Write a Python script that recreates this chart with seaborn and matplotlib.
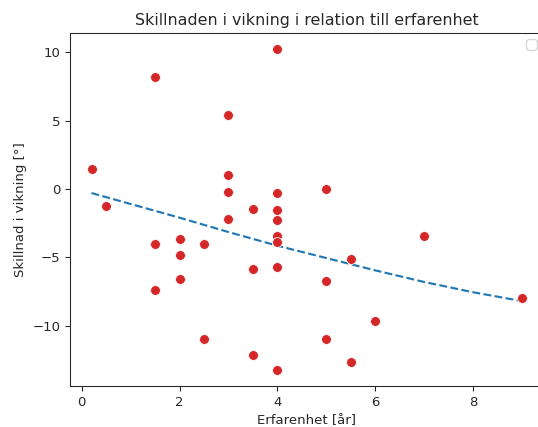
import matplotlib
matplotlib.use("Agg")
import matplotlib.pyplot as plt
import seaborn as sns

# erfarenhet (år) och skillnad i vikning (grader)
erfarenhet = [0.2, 0.5, 1.5, 3, 3, 3, 3, 3.5, 4, 4, 4, 4, 1.5, 2, 2.5, 4, 4,
              2, 3.5, 4, 2, 1.5, 2.5, 3.5, 4, 5, 7, 5.5, 5, 9, 6, 5, 5.5]
skillnad = [1.44, -1.22, 8.21, 5.41, 1.02, -0.24, -2.19, -1.46, 10.24, -0.31,
            -1.51, -2.27, -4.02, -3.68, -4.02, -3.42, -3.9, -4.81, -5.85,
            -5.71, -6.61, -7.39, -10.95, -12.14, -13.26, 0.0, -3.46, -5.14,
            -6.75, -7.95, -9.68, -10.99, -12.63]

# anpassad kurva (streckad), avläst
kurva_x = [0.2, 1, 2, 3, 4, 5, 6, 7, 8, 9]
kurva_y = [-0.3, -1.1, -2.1, -3.15, -4.15, -5.05, -5.95, -6.8, -7.55, -8.2]

sns.set_style("ticks")
plt.rcParams['font.family'] = ['DejaVu Sans']

dpi = 95.5
fig = plt.figure(figsize=(538 / dpi, 427 / dpi), dpi=dpi)
ax = fig.add_axes([0.1301, 0.0951, 0.880, 0.828])

sns.lineplot(x=kurva_x, y=kurva_y, ax=ax, color='#1f77b4', linestyle='--',
             linewidth=1.6)
sns.scatterplot(x=erfarenhet, y=skillnad, ax=ax, color='#d62728', s=55,
                zorder=3)

ax.margins(0.05)
ax.set_title("Skillnaden i vikning i relation till erfarenhet")
ax.set_xlabel("Erfarenhet [år]")
ax.set_ylabel("Skillnad i vikning [°]")
ax.legend()

fig.savefig("out.png", dpi=dpi)
